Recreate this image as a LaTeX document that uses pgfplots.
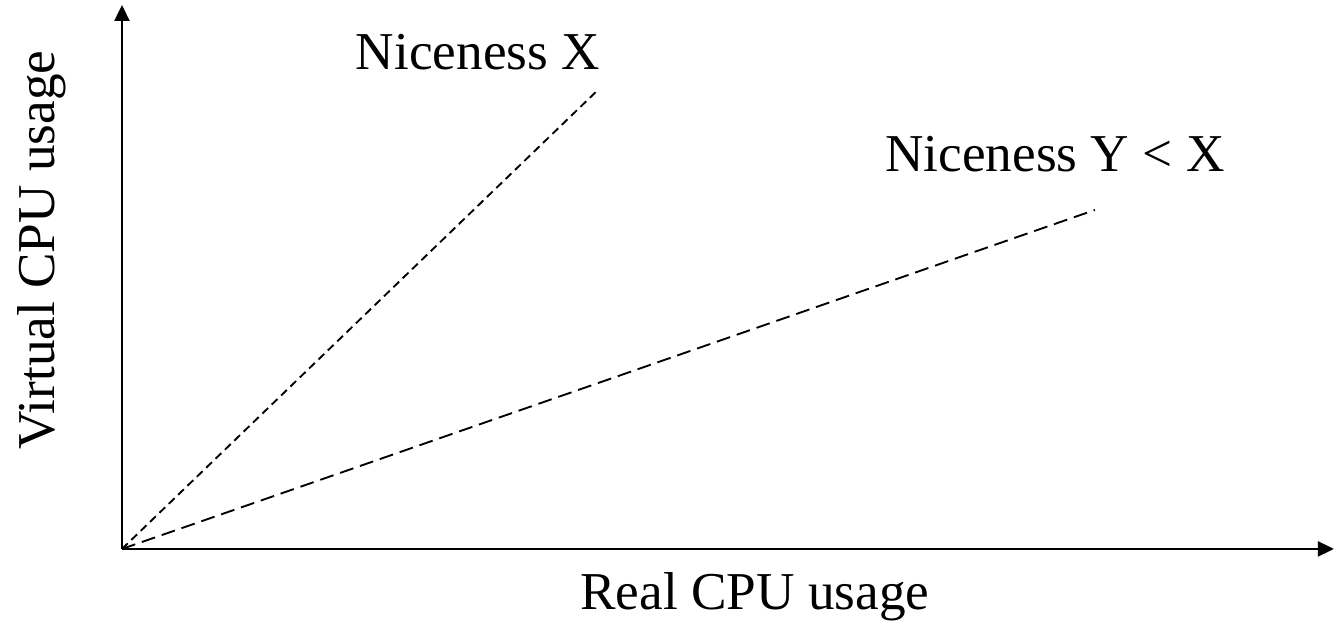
\documentclass[border=0pt]{standalone}
\usepackage{pgfplots}
\pgfplotsset{compat=1.18}
\usetikzlibrary{arrows.meta}
\usepackage{fontspec}
\setmainfont{Liberation Serif}

\begin{document}
\begin{tikzpicture}[lbl/.style={font=\fontsize{21.3}{25}\selectfont, inner sep=0pt}]
% one axis unit = one pixel of the reference (0.4pt)
\begin{axis}[
    x=0.4pt, y=0.4pt,
    xmin=0, xmax=1212,
    ymin=0, ymax=544,
    axis x line=bottom,
    axis y line=left,
    axis line style={line width=0.9pt},
    every outer x axis line/.append style={-{Triangle[length=6.4pt,width=6pt]}},
    every outer y axis line/.append style={-{Triangle[length=6.4pt,width=6pt]}},
    xtick=\empty, ytick=\empty,
    clip=false,
]
\path (axis cs:-122,-75) rectangle (axis cs:1213,549);

\addplot[black, line width=0.75pt, dash pattern=on 3.2pt off 2pt] coordinates {
    (0,0) (476,459)
};
\addplot[black, line width=0.75pt, dash pattern=on 5.6pt off 2.8pt] coordinates {
    (0,0) (973,339)
};

\node[lbl] at (axis cs:356,497) {Niceness X};
\node[lbl] at (axis cs:933,395) {Niceness Y < X};
\node[lbl] at (axis cs:633,-48) {Real CPU usage};
\node[lbl, rotate=90] at (axis cs:-80,299) {Virtual CPU usage};
\end{axis}
\end{tikzpicture}
\end{document}
